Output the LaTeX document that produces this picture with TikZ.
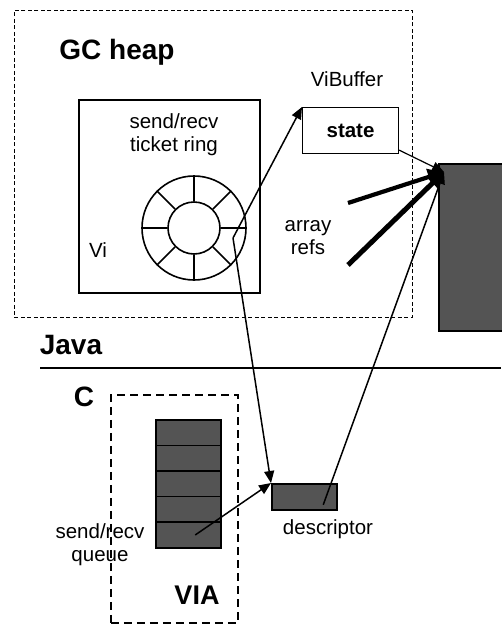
\documentclass[tikz,border=0pt]{standalone}
\usepackage{fontspec}
\setmainfont{Liberation Sans}
\usetikzlibrary{arrows.meta}
\tikzset{
  lbl/.style={inner sep=0pt, font=\fontsize{20.5}{23}\selectfont, align=center},
  big/.style={inner sep=0pt, font=\fontsize{28}{30}\selectfont\bfseries},
  gray/.style={draw=black, line width=1.5pt, fill=black!67},
  arr/.style={line width=1.5pt, -{Triangle[length=12pt,width=10pt]}},
  fatarr/.style={line width=5pt, -{Triangle[length=16pt,width=16pt]}},
}
\begin{document}
\begin{tikzpicture}[x=1pt,y=-1pt]
\useasboundingbox (0,0) rectangle (501,624);
% GC heap region
\node[draw, line width=0.9pt, dash pattern=on 4pt off 2.5pt, minimum width=398pt, minimum height=307pt, anchor=north west, inner sep=0pt] (heap) at (14,10) {};
\node[big] (gclbl) at (117,52) {GC heap};
% Vi box
\node[draw, line width=1.7pt, minimum width=181pt, minimum height=193pt, anchor=north west, inner sep=0pt] (vi) at (78,99) {};
\node[lbl] (ring lbl) at (174,135) {send/recv\\ticket ring};
\node[lbl] (vilbl) at (98,250) {Vi};
% ring
\node[draw, circle, line width=1.6pt, minimum size=104pt, inner sep=0pt] (ring) at (194,228) {};
\node[draw, circle, line width=1.6pt, minimum size=52pt, inner sep=0pt] (hub) at (194,228) {};
\foreach \a in {0,45,...,315} {
  \draw[line width=1.6pt] (hub.\a) -- (ring.\a);
}
\coordinate (rp) at (233,238);
% ViBuffer
\node[lbl] (vbl) at (347,79) {ViBuffer};
\node[draw, line width=1.1pt, minimum width=96pt, minimum height=46pt, anchor=north west, inner sep=0pt, font=\fontsize{20.5}{23}\selectfont\bfseries] (state) at (302,107) {state};
% big gray block
\node[gray, minimum width=80pt, minimum height=167pt, anchor=north west, inner sep=0pt] (blk) at (438,163) {};
\coordinate (bt) at (444,172);
% array refs
\node[lbl] (arefs) at (308,238) {array\\refs};
\coordinate (a1) at (348,203);
\coordinate (a2) at (348,265);
\draw[fatarr, line width=4.2pt] (a1) -- (bt);
\draw[fatarr] (a2) -- (bt);
\draw[arr, line width=1.2pt] (state.south east) ++(0,-4) coordinate (se) -- (bt);
% Java / C separator
\node[big] (java) at (71,345) {Java};
\coordinate (ll) at (40,368);
\coordinate (lr) at (501,368);
\draw[line width=1.5pt] (ll) -- (lr);
\node[big] (clbl) at (84,397) {C};
% VIA region
\node[draw, line width=1.7pt, dash pattern=on 8pt off 5pt, minimum width=127pt, minimum height=228pt, anchor=north west, inner sep=0pt] (via) at (110,394) {};
\node[big, font=\fontsize{27}{30}\selectfont\bfseries] (vialbl) at (197,595) {VIA};
% queue
\foreach \i in {0,...,4} {
  \node[gray, minimum width=65pt, minimum height=25.6pt, anchor=north west, inner sep=0pt] (q\i) at (155,{419+25.6*\i}) {};
}
\node[lbl] (qlbl) at (100,545) {send/recv\\queue};
% descriptor
\node[gray, minimum width=65pt, minimum height=26pt, anchor=north west, inner sep=0pt] (desc) at (271,483) {};
\node[lbl] (dlbl) at (328,529) {descriptor};
% arrows
\draw[arr] (rp) -- (state.north west);
\draw[arr] (rp) -- (desc.north west);
\draw[arr] (q4.center) ++(7,0) coordinate (qs) -- (desc.north west);
\draw[arr] (desc.center) ++(19,8) coordinate (ds) -- (bt);
\end{tikzpicture}
\end{document}
